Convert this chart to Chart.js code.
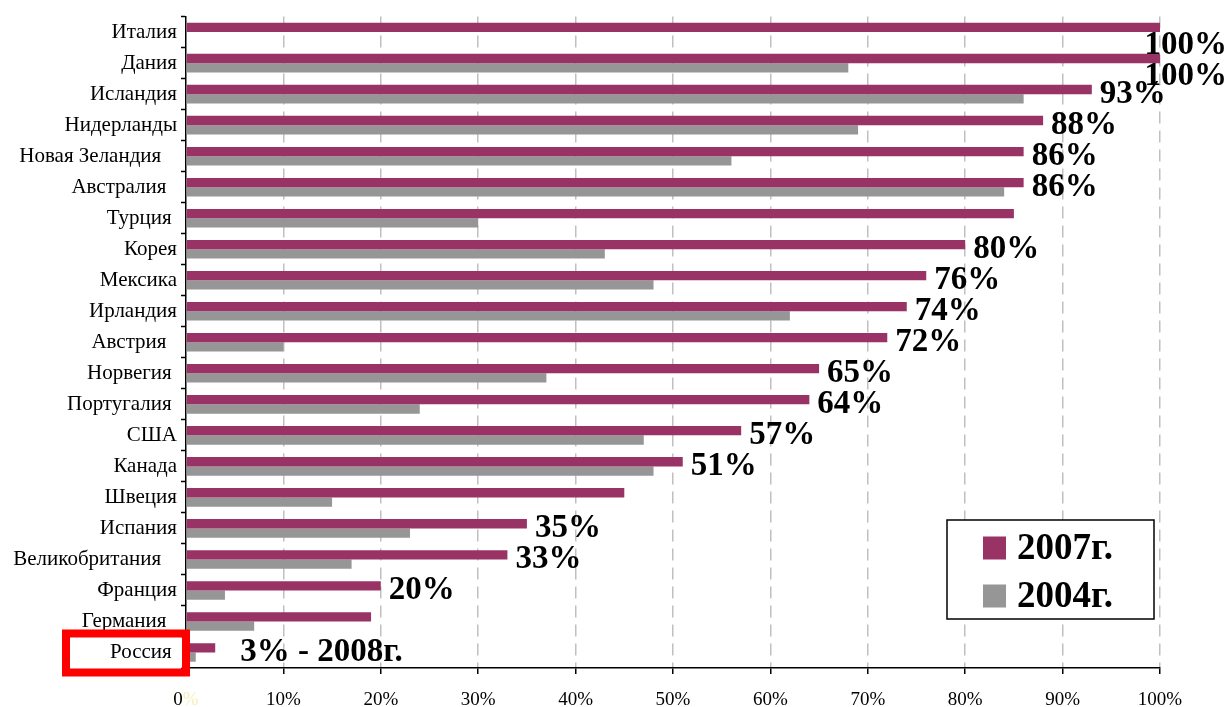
<!DOCTYPE html>
<html>
<head>
<meta charset="utf-8">
<script src="https://cdn.jsdelivr.net/npm/chart.js@4.4.1/dist/chart.umd.min.js"></script>
<style>
  html, body { margin: 0; padding: 0; background: #ffffff; }
  #wrap { width: 1230px; height: 707px; position: relative; }
</style>
</head>
<body>
<div id="wrap"><canvas id="c"></canvas></div>
<script>
const categories = ['Италия','Дания','Исландия','Нидерланды','Новая Зеландия   ','Австралия  ','Турция ','Корея','Мексика','Ирландия','Австрия  ','Норвегия ','Португалия ','США','Канада','Швеция','Испания','Великобритания   ','Франция','Германия  ','Россия '];
const values2007 = [100,100,93,88,86,86,85,80,76,74,72,65,64,57,51,45,35,33,20,19,3];
const values2004 = [null,68,86,69,56,84,30,43,48,62,10,37,24,47,48,15,23,17,4,7,1];
const labels2007 = ['100%','100%','93%','88%','86%','86%',null,'80%','76%','74%','72%','65%','64%','57%','51%',null,'35%','33%','20%',null,'3% - 2008г.'];
const seriesNames = ['2007г.','2004г.'];
const xTickValues = [0,10,20,30,40,50,60,70,80,90,100];

const SERIF = "'Liberation Serif', 'Times New Roman', serif";
const COL07 = '#993366';
const COL04 = '#969696';

const labelPlugin = {
  id: 'valueLabels',
  afterDatasetsDraw(chart) {
    const ctx = chart.ctx;
    const meta = chart.getDatasetMeta(0);
    ctx.save();
    ctx.font = "bold 33px " + SERIF;
    ctx.fillStyle = '#000';
    ctx.textBaseline = 'middle';
    ctx.textAlign = 'left';
    labels2007.forEach((txt, i) => {
      if (!txt) return;
      const bar = meta.data[i];
      let x = bar.x + 8;
      let y = bar.y + 5;
      if (categories[i].trim() === 'Россия') x += 17;
      const w = ctx.measureText(txt).width;
      if (x + w > chart.width - 3) { x = chart.width - 3 - w; y = bar.y + 18; }
      ctx.fillText(txt, x, y);
    });
    ctx.restore();
  }
};

const extrasPlugin = {
  id: 'extras',
  afterDraw(chart) {
    const ctx = chart.ctx;
    const ca = chart.chartArea;
    // legend box
    const bx = ca.right - 213, by = ca.bottom - 148, bw = 207, bh = 99;
    ctx.save();
    ctx.fillStyle = '#fff';
    ctx.fillRect(bx, by, bw, bh);
    ctx.strokeStyle = '#000';
    ctx.lineWidth = 1.5;
    ctx.strokeRect(bx, by, bw, bh);
    ctx.font = "bold 37px " + SERIF;
    ctx.textBaseline = 'middle';
    ctx.textAlign = 'left';
    chart.data.datasets.forEach((ds, k) => {
      const cy = by + 28 + k * 48;
      ctx.fillStyle = ds.backgroundColor;
      ctx.fillRect(bx + 36, cy - 11.5, 23, 23);
      ctx.fillStyle = '#000';
      ctx.fillText(ds.label, bx + 70, cy + 1);
    });
    // red frame around Россия
    const ys = chart.scales.y;
    const ri = categories.findIndex(c => c.trim() === 'Россия');
    const cy = ys.getPixelForValue(ri);
    ctx.strokeStyle = '#ff0000';
    ctx.lineWidth = 8;
    ctx.strokeRect(66, cy - 19, ca.left - 66, 39);
    // "0%" with faint percent sign
    const xs = chart.scales.x;
    const items = xs.getLabelItems ? xs.getLabelItems() : null;
    if (items && items.length) {
      const it = items[0];
      ctx.font = it.font.string;
      ctx.textBaseline = it.options.textBaseline;
      ctx.textAlign = 'left';
      const full = ctx.measureText('0%').width;
      ctx.fillStyle = '#000';
      ctx.fillText('0', it.options.translation[0] - full / 2, it.options.translation[1] + (it.textOffset || 0));
    }
    ctx.restore();
  }
};

new Chart(document.getElementById('c'), {
  type: 'bar',
  data: {
    labels: categories,
    datasets: [
      { label: seriesNames[0], data: values2007, backgroundColor: COL07, categoryPercentage: 0.6, barPercentage: 1.0 },
      { label: seriesNames[1], data: values2004, backgroundColor: COL04, categoryPercentage: 0.6, barPercentage: 1.0 }
    ]
  },
  options: {
    indexAxis: 'y',
    responsive: true,
    maintainAspectRatio: false,
    animation: false,
    layout: { padding: { top: 16, right: 70, left: 0, bottom: 0 } },
    plugins: { legend: { display: false }, tooltip: { enabled: false } },
    scales: {
      x: {
        type: 'linear',
        min: 0, max: 100,
        afterBuildTicks: (s) => { s.ticks = xTickValues.map(v => ({ value: v })); },
        afterFit: (s) => { s.height = 39; },
        ticks: {
          callback: (v) => v + '%',
          color: (c) => c.index === 0 ? '#f6f0b8' : '#000',
          font: { family: SERIF, size: 19 },
          padding: 15,
          maxRotation: 0
        },
        grid: {
          color: (c) => c.index === 0 ? 'rgba(0,0,0,0)' : '#c0c0c0',
          lineWidth: 1.5,
          tickColor: '#000',
          tickLength: 6,
          tickWidth: 1.5
        },
        border: { display: true, color: '#000', width: 1.5, dash: [12, 7] }
      },
      y: {
        afterFit: (s) => { s.width = 186; },
        offset: true,
        ticks: {
          color: '#000',
          font: { family: SERIF, size: 21 },
          padding: 4,
          autoSkip: false
        },
        grid: {
          offset: true,
          drawOnChartArea: false,
          drawTicks: true,
          tickLength: 5,
          tickColor: '#000',
          tickWidth: 1.5
        },
        border: { display: true, color: '#000', width: 1.5 }
      }
    }
  },
  plugins: [labelPlugin, extrasPlugin]
});
</script>
</body>
</html>
